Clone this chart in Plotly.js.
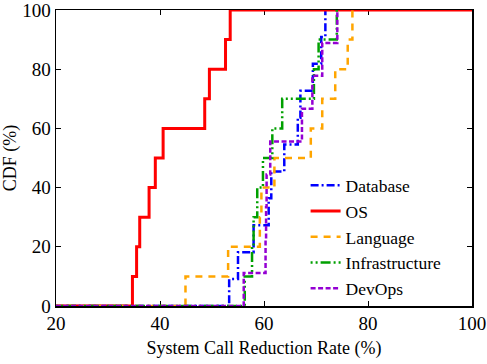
<!DOCTYPE html>
<html>
<head>
<meta charset="utf-8">
<script src="https://cdn.plot.ly/plotly-3.0.1.min.js"></script>
<style>html,body{margin:0;padding:0;background:#fff;}#chart{width:487px;height:364px;}</style>
</head>
<body>
<div id="chart"></div>
<script>
// Reduction rates (%) at each CDF step, and the CDF level (%) reached there
const dbRates    = [53.3, 55.0, 58.0, 60.9, 61.4, 63.9, 66.5, 67.0, 69.4, 71.0, 71.8];
const dbCdf      = [9.09, 18.18, 27.27, 36.36, 45.45, 54.55, 63.64, 72.73, 81.82, 90.91, 100];
const osRates    = [34.7, 35.5, 36.1, 37.9, 39.1, 40.6, 48.6, 49.5, 52.6, 53.5];
const osCdf      = [10, 20, 30, 40, 50, 60, 70, 80, 90, 100];
const langRates  = [44.9, 53.1, 59.2, 59.5, 62.0, 69.0, 71.2, 73.7, 76.1, 77.0];
const langCdf    = [10, 20, 30, 40, 50, 60, 70, 80, 90, 100];
const infraRates = [56.3, 57.7, 58.0, 58.7, 59.8, 61.6, 63.5, 69.6, 70.5, 74.0];
const infraCdf   = [10, 20, 30, 40, 50, 60, 70, 80, 90, 100];
const devRates   = [56.1, 60.3, 60.4, 60.5, 61.2, 67.3, 69.3, 71.2, 74.1];
const devCdf     = [11.11, 22.22, 33.33, 44.44, 55.56, 66.67, 77.78, 88.89, 100];

const seriesNames = ["Database", "OS", "Language", "Infrastructure", "DevOps"];
const xStart = 20, xEnd = 100;

function stepTrace(name, rates, cdf, color, dash, width, extend) {
  const x = [xStart].concat(rates);
  const y = [0].concat(cdf);
  if (extend) { x.push(xEnd); y.push(cdf[cdf.length - 1]); }
  return {
    type: "scatter", mode: "lines", name: name, x: x, y: y,
    line: {shape: "hv", color: color, dash: dash, width: width}
  };
}

const traces = [
  stepTrace(seriesNames[0], dbRates, dbCdf, "#0000ff", "8px,3px,2px,3px", 2.5, false),
  stepTrace(seriesNames[1], osRates, osCdf, "#ff0000", "solid", 3, true),
  stepTrace(seriesNames[2], langRates, langCdf, "#ffa500", "7px,6px", 2.5, false),
  stepTrace(seriesNames[3], infraRates, infraCdf, "#00a000", "2px,3px,2px,3px,10px,3px", 2.5, false),
  stepTrace(seriesNames[4], devRates, devCdf, "#9400d3", "5px,2.5px", 2.5, false)
];

const fam = "Liberation Serif, Times New Roman, serif";
const tickFont = {family: fam, size: 19, color: "#000"};
const titleFont = {family: fam, size: 18, color: "#000"};

const layout = {
  width: 487, height: 364,
  margin: {l: 56, r: 15, t: 10, b: 58},
  paper_bgcolor: "#fff", plot_bgcolor: "#fff",
  font: titleFont,
  showlegend: true,
  legend: {
    x: 0.6, y: 0.468, xanchor: "left", yanchor: "top",
    bgcolor: "rgba(0,0,0,0)", borderwidth: 0,
    font: {family: fam, size: 17.5, color: "#000"},
    tracegroupgap: 0, itemwidth: 30
  },
  xaxis: {
    range: [20, 100], tickvals: [20, 40, 60, 80, 100],
    ticks: "inside", ticklen: 5, tickwidth: 1, tickcolor: "#000",
    showline: true, linecolor: "#000", linewidth: 1.5, mirror: "allticks",
    showgrid: false, zeroline: false, layer: "below traces",
    ticklabeloverflow: "allow",
    tickfont: tickFont,
    title: {text: "System Call Reduction Rate (%)", font: titleFont, standoff: 8}
  },
  yaxis: {
    range: [0, 100], tickvals: [0, 20, 40, 60, 80, 100],
    ticks: "inside", ticklen: 5, tickwidth: 1, tickcolor: "#000",
    showline: true, linecolor: "#000", linewidth: 1.5, mirror: "allticks",
    showgrid: false, zeroline: false, layer: "below traces",
    ticklabeloverflow: "allow",
    tickfont: tickFont,
    title: {text: "CDF (%)", font: titleFont, standoff: 6}
  }
};

Plotly.newPlot("chart", traces, layout, {displayModeBar: false, staticPlot: true});
</script>
</body>
</html>
